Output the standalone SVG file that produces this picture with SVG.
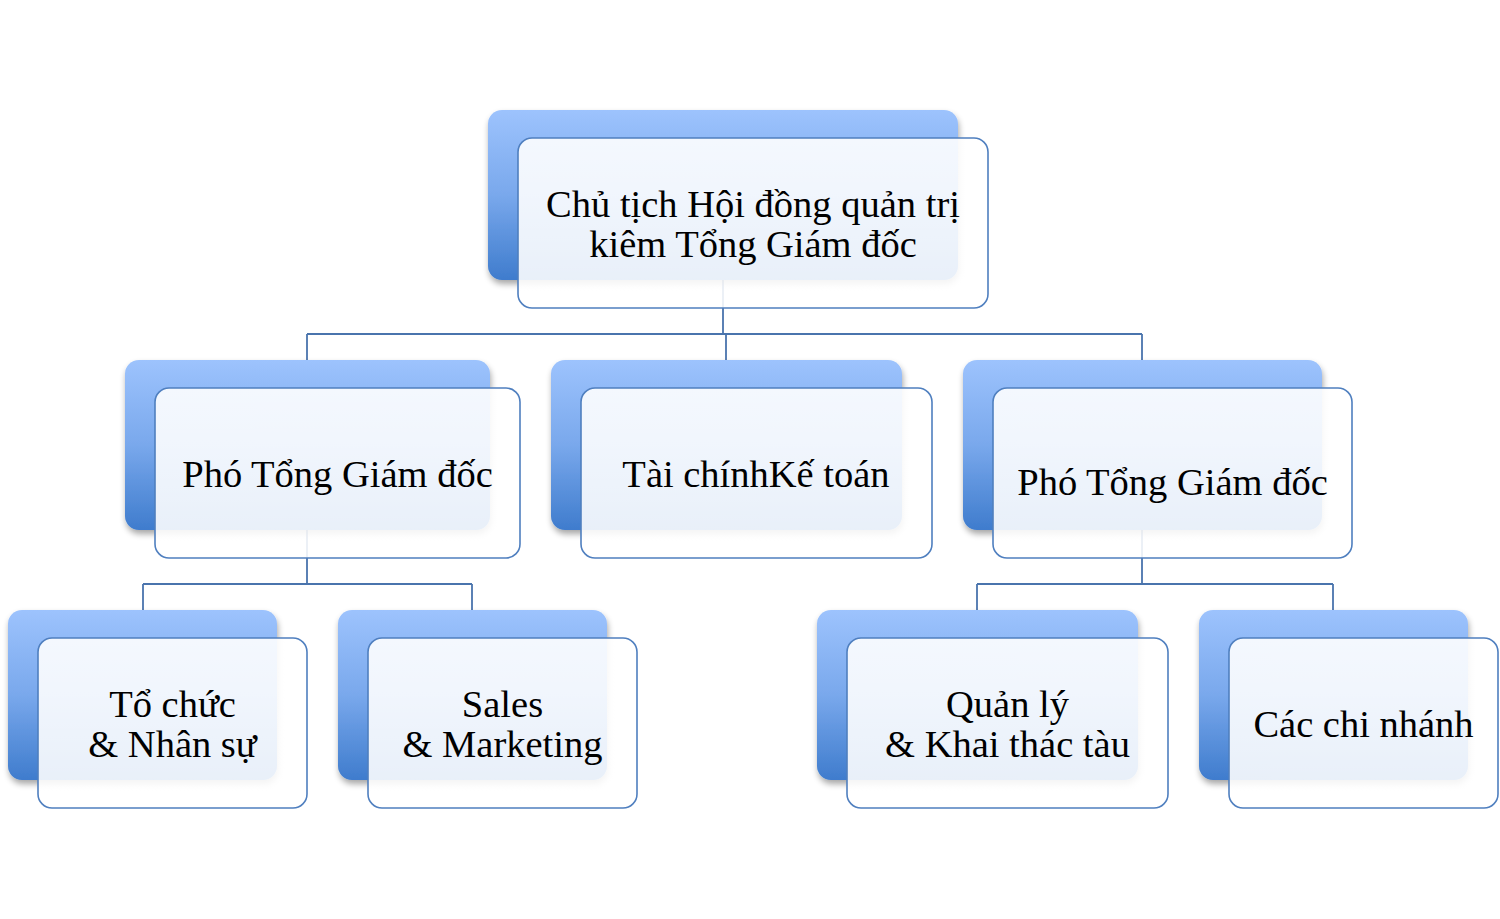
<svg xmlns="http://www.w3.org/2000/svg" width="1500" height="919" viewBox="0 0 1500 919">
<defs>
<linearGradient id="gBack" x1="0" y1="0" x2="0" y2="1">
<stop offset="0" stop-color="#9dc3fd"/>
<stop offset="0.5" stop-color="#79a8ec"/>
<stop offset="1" stop-color="#3f7ccd"/>
</linearGradient>
<linearGradient id="gFront" x1="0" y1="0" x2="0" y2="1">
<stop offset="0" stop-color="#ffffff" stop-opacity="0.9"/>
<stop offset="1" stop-color="#ffffff" stop-opacity="0.88"/>
</linearGradient>
<filter id="sh" x="-10%" y="-10%" width="125%" height="130%">
<feGaussianBlur in="SourceAlpha" stdDeviation="3"/>
<feOffset dx="1" dy="4" result="b"/>
<feComponentTransfer><feFuncA type="linear" slope="0.35"/></feComponentTransfer>
<feMerge><feMergeNode/><feMergeNode in="SourceGraphic"/></feMerge>
</filter>
</defs>
<style>
.back{fill:url(#gBack);filter:url(#sh)}
.front{fill:url(#gFront);stroke:#4f7fbf;stroke-width:1.6}
.conn{fill:none;stroke:#4a74ad;stroke-width:1.8}
.t{font-family:"Liberation Serif","DejaVu Serif",serif;font-size:38.5px;fill:#000;text-anchor:middle}
</style>
<rect width="1500" height="919" fill="#ffffff"/>
<g id="connectors">
<path class="conn" d="M723 280V334M307 334H1142M307 334V360M726 334V360M1142 334V360"/>
<path class="conn" d="M307 530V584M143 584H472M143 584V610M472 584V610"/>
<path class="conn" d="M1142 530V584M977 584H1333M977 584V610M1333 584V610"/>
</g>
<g id="n-ceo">
<rect class="back" x="488" y="110" width="470" height="170" rx="14"/>
<rect class="front" x="518" y="138" width="470" height="170" rx="14"/>
<text class="t" x="753" y="217">Chủ tịch Hội đồng quản trị</text>
<text class="t" x="753" y="257">kiêm Tổng Giám đốc</text>
</g>
<g id="n-pho1">
<rect class="back" x="125" y="360" width="365" height="170" rx="14"/>
<rect class="front" x="155" y="388" width="365" height="170" rx="14"/>
<text class="t" x="337.5" y="487">Phó Tổng Giám đốc</text>
</g>
<g id="n-taichinh">
<rect class="back" x="551" y="360" width="351" height="170" rx="14"/>
<rect class="front" x="581" y="388" width="351" height="170" rx="14"/>
<text class="t" x="756" y="487">Tài chínhKế toán</text>
</g>
<g id="n-pho2">
<rect class="back" x="963" y="360" width="359" height="170" rx="14"/>
<rect class="front" x="993" y="388" width="359" height="170" rx="14"/>
<text class="t" x="1172.5" y="495">Phó Tổng Giám đốc</text>
</g>
<g id="n-tochuc">
<rect class="back" x="8" y="610" width="269" height="170" rx="14"/>
<rect class="front" x="38" y="638" width="269" height="170" rx="14"/>
<text class="t" x="172.5" y="717">Tổ chức</text>
<text class="t" x="172.5" y="757">&amp; Nhân sự</text>
</g>
<g id="n-sales">
<rect class="back" x="338" y="610" width="269" height="170" rx="14"/>
<rect class="front" x="368" y="638" width="269" height="170" rx="14"/>
<text class="t" x="502.5" y="717">Sales</text>
<text class="t" x="502.5" y="757">&amp; Marketing</text>
</g>
<g id="n-quanly">
<rect class="back" x="817" y="610" width="321" height="170" rx="14"/>
<rect class="front" x="847" y="638" width="321" height="170" rx="14"/>
<text class="t" x="1007.5" y="717">Quản lý</text>
<text class="t" x="1007.5" y="757">&amp; Khai thác tàu</text>
</g>
<g id="n-chinhanh">
<rect class="back" x="1199" y="610" width="269" height="170" rx="14"/>
<rect class="front" x="1229" y="638" width="269" height="170" rx="14"/>
<text class="t" x="1363.5" y="737">Các chi nhánh</text>
</g>
</svg>
